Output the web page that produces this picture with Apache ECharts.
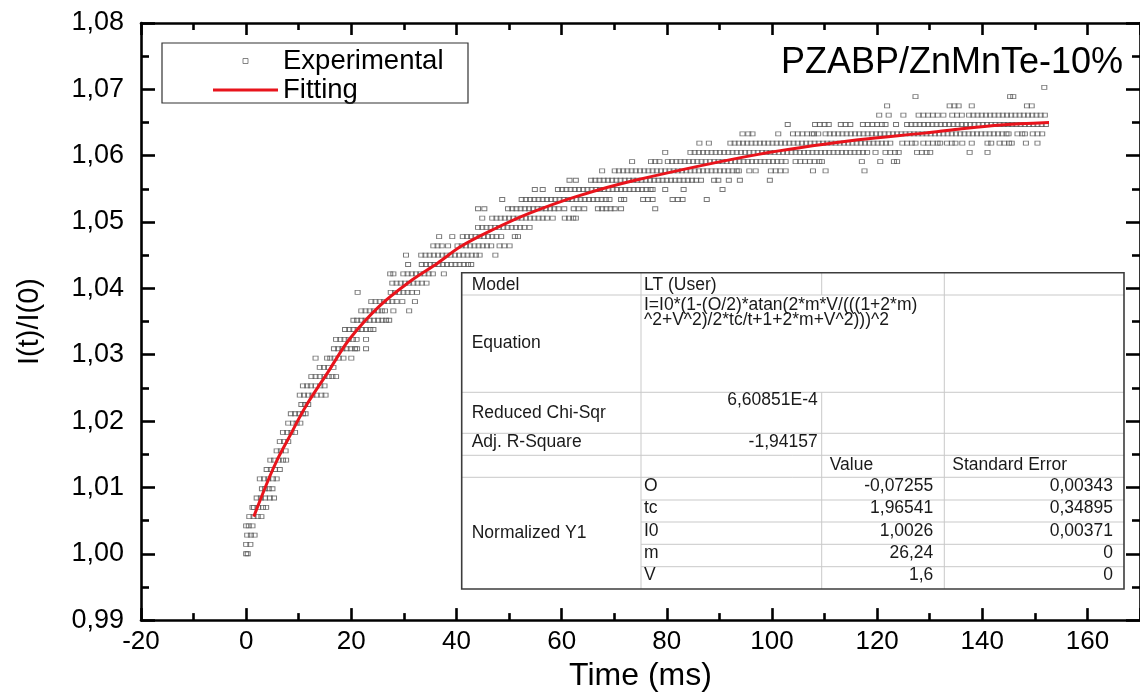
<!DOCTYPE html>
<html>
<head>
<meta charset="utf-8">
<script src="https://cdn.jsdelivr.net/npm/echarts@6/dist/echarts.min.js"></script>
<style>
html, body { margin: 0; padding: 0; background: #fff; }
#chart { width: 1140px; height: 697px; }
</style>
</head>
<body>
<div id="chart"></div>
<script>
// Normalized intensity levels I(t)/I(0) (the detector output is quantized)
const expLevels = [
  1.0000, 1.0014, 1.0028, 1.0042, 1.0056, 1.0070, 1.0084, 1.0098, 1.0113, 1.0127,
  1.0141, 1.0155, 1.0169, 1.0183, 1.0197, 1.0211, 1.0225, 1.0239, 1.0253, 1.0267,
  1.0281, 1.0295, 1.0309, 1.0323, 1.0338, 1.0352, 1.0366, 1.0380, 1.0394, 1.0408,
  1.0422, 1.0436, 1.0450, 1.0464, 1.0478, 1.0492, 1.0506, 1.0520, 1.0534, 1.0549,
  1.0563, 1.0577, 1.0591, 1.0605, 1.0619, 1.0633, 1.0647, 1.0661, 1.0675, 1.0689,
  1.0703
];

// Times (ms) at which each level above was recorded
const expTimes = [
  [0.0, 0.3],
  [0.0, 0.8],
  [0.2, 0.9, 1.6],
  [0.0, 0.5, 1.2],
  [0.6, 1.4, 2.2, 2.9],
  [1.2, 1.5, 2.3, 3.2, 3.8],
  [2.0, 2.8, 3.6, 4.5, 5.3],
  [3.0, 3.6, 4.3, 5.0],
  [2.6, 3.4, 4.2, 5.1, 5.8],
  [3.9, 4.7, 5.5, 6.4],
  [4.6, 5.3, 6.2, 7.0, 7.6],
  [5.8, 6.6, 7.5],
  [6.4, 7.2, 8.0],
  [7.0, 7.8, 8.6, 9.3],
  [8.0, 8.9, 9.6, 10.3],
  [8.5, 9.3, 10.1, 10.8, 11.3],
  [10.5, 11.2, 11.8],
  [10.2, 11.0, 11.8, 12.6, 13.4, 14.3, 15.1],
  [10.8, 11.6, 12.3, 13.2, 14.1, 14.9],
  [12.4, 13.2, 14.0, 14.9, 15.7, 16.4, 17.1],
  [14.0, 14.8, 15.6, 16.6],
  [13.2, 15.4, 16.0, 16.8, 17.6, 18.5, 20.0],
  [16.7, 17.5, 18.3, 19.1, 19.9, 20.7, 21.1, 22.8],
  [17.1, 17.9, 18.7, 19.5, 20.3, 21.0, 22.8],
  [18.8, 19.6, 20.4, 21.2, 22.0, 22.8, 23.6, 24.2],
  [20.4, 21.1, 21.9, 22.7, 23.5, 24.3, 25.1, 25.9, 26.6, 27.2],
  [21.9, 22.7, 23.5, 24.3, 25.1, 25.8, 26.4, 28.0, 31.0],
  [23.8, 24.6, 25.4, 26.2, 27.0, 27.8, 28.6, 29.7, 32.1],
  [21.2, 27.5, 28.3, 29.1, 29.9, 30.7, 31.5, 32.5],
  [27.8, 28.6, 29.4, 30.2, 31.0, 31.8, 32.6, 33.4, 34.3],
  [27.4, 28.0, 29.9, 30.7, 31.5, 32.3, 33.1, 33.9, 34.7, 35.5, 37.6],
  [30.8, 33.4, 34.2, 35.0, 35.8, 36.6, 37.4, 38.2, 39.0, 39.8, 40.6, 41.4, 42.2, 42.8],
  [30.4, 33.3, 34.1, 34.9, 35.7, 36.5, 37.3, 38.1, 38.9, 39.7, 40.5, 41.3, 42.1, 42.9, 43.7, 44.4, 47.4],
  [35.6, 36.4, 37.2, 38.4, 40.2, 41.0, 41.8, 42.6, 43.4, 44.2, 45.0, 45.8, 46.6, 48.2, 49.1, 50.1],
  [36.7, 39.2, 41.2, 42.0, 42.8, 43.6, 44.4, 45.2, 46.0, 46.8, 47.6, 48.5, 51.1, 51.7],
  [44.1, 44.9, 45.7, 46.5, 47.3, 48.1, 48.9, 49.7, 50.5, 51.3, 52.1, 52.9, 53.9],
  [44.9, 46.8, 47.6, 48.4, 49.2, 50.0, 50.8, 51.6, 52.4, 53.2, 54.0, 54.8, 55.6, 56.4, 57.2, 58.3,
   60.6, 61.4, 62.2, 62.7],
  [44.1, 45.3, 49.8, 50.6, 51.4, 52.2, 53.0, 53.8, 54.6, 55.4, 56.2, 57.0, 57.8, 58.6, 59.4, 60.5,
   62.3, 63.2, 64.3, 66.9, 67.7, 68.5, 69.3, 70.1, 71.3, 77.8],
  [48.7, 52.4, 53.2, 54.0, 54.8, 55.6, 56.4, 57.2, 58.0, 58.8, 59.6, 60.4, 61.2, 62.0, 62.8, 63.6,
   64.4, 65.2, 66.0, 66.8, 67.6, 68.4, 69.1, 71.3, 71.9, 75.5, 76.4, 77.3, 81.1, 82.1, 83.0, 87.6],
  [54.9, 56.4, 59.3, 60.1, 60.9, 61.7, 62.5, 63.3, 64.1, 64.9, 65.7, 66.5, 67.3, 68.1, 68.9, 69.7,
   70.5, 71.3, 72.1, 72.9, 73.7, 74.5, 75.3, 76.1, 76.9, 77.3, 79.7, 83.2, 90.6],
  [61.5, 62.7, 65.6, 66.4, 67.2, 68.0, 68.8, 69.6, 70.4, 71.2, 72.0, 72.8, 73.6, 74.4, 75.2, 76.0,
   76.8, 77.6, 78.4, 79.2, 80.0, 80.8, 81.6, 82.4, 83.2, 84.0, 84.8, 85.6, 86.5, 89.0, 89.8, 91.8,
   93.9, 99.6],
  [67.7, 70.1, 70.9, 71.7, 72.5, 73.3, 74.1, 74.9, 75.7, 76.5, 77.3, 78.1, 78.9, 79.7, 80.5, 81.3,
   82.1, 82.9, 83.7, 84.5, 85.3, 86.1, 86.9, 87.7, 88.5, 89.3, 90.1, 90.9, 91.7, 92.5, 93.3, 93.7,
   95.7, 96.9, 99.8, 100.7, 101.6, 102.6, 107.8, 110.2, 117.6],
  [73.4, 77.0, 77.8, 78.6, 80.2, 81.0, 81.8, 82.6, 83.4, 84.2, 85.0, 85.8, 86.6, 87.4, 88.2, 89.0,
   89.8, 90.6, 91.4, 92.2, 93.0, 93.8, 94.6, 95.4, 96.2, 97.0, 97.8, 98.6, 99.4, 100.2, 101.0, 101.8,
   102.6, 104.5, 105.4, 106.3, 107.2, 108.1, 109.0, 109.5, 117.1, 120.6, 123.2, 123.8],
  [79.7, 84.5, 85.3, 86.1, 86.9, 87.7, 88.5, 89.3, 90.1, 90.9, 91.7, 92.5, 93.3, 94.1, 94.9, 95.7,
   96.5, 97.3, 98.1, 98.9, 99.7, 100.5, 101.3, 102.1, 102.9, 103.7, 104.5, 105.3, 106.1, 106.9, 107.7,
   108.5, 109.3, 110.1, 110.9, 111.7, 112.5, 113.3, 114.1, 114.9, 115.7, 116.5, 117.3, 118.1, 119.7,
   121.6, 122.5, 123.4, 124.1, 127.6, 128.5, 129.4, 130.1, 137.6, 141.0],
  [86.2, 88.0, 92.1, 92.9, 93.7, 94.5, 95.3, 96.1, 96.9, 97.7, 98.5, 99.3, 100.1, 100.9, 101.7, 102.5,
   103.3, 104.1, 104.9, 105.7, 106.5, 107.3, 108.1, 108.9, 109.7, 110.5, 111.3, 112.1, 112.9, 113.7,
   114.5, 115.3, 116.1, 116.9, 117.7, 118.5, 119.3, 120.1, 120.9, 121.7, 122.5, 124.8, 125.7, 126.6,
   127.3, 128.8, 129.7, 130.6, 131.5, 132.0, 133.3, 134.2, 134.9, 136.2, 138.0, 141.0, 141.7, 143.3,
   144.2, 145.1, 145.6, 148.3, 150.5],
  [94.4, 95.5, 96.3, 101.2, 104.0, 104.9, 105.8, 106.7, 107.6, 108.0, 108.8, 110.2, 111.0, 111.8,
   112.6, 113.4, 114.2, 115.0, 115.8, 116.6, 117.4, 118.2, 119.0, 119.8, 120.6, 121.4, 122.2, 123.0,
   123.8, 124.6, 125.4, 126.2, 127.0, 127.8, 128.6, 129.4, 130.2, 131.0, 131.8, 132.6, 133.4, 134.2,
   135.0, 135.8, 136.6, 137.4, 138.2, 139.0, 139.8, 140.6, 141.4, 142.2, 143.0, 143.8, 144.6, 145.0,
   146.7, 147.6, 148.1, 149.6, 150.5, 151.4],
  [103.0, 108.2, 109.1, 110.0, 110.8, 113.1, 114.0, 114.9, 117.3, 118.2, 119.1, 120.0, 120.9, 121.6,
   123.6, 125.7, 126.5, 127.3, 128.1, 128.9, 129.7, 130.5, 131.3, 132.1, 132.9, 133.7, 134.5, 135.3,
   136.1, 136.9, 137.7, 138.5, 139.3, 140.1, 140.9, 141.7, 142.5, 143.3, 144.1, 144.9, 145.7, 146.5,
   147.3, 148.1, 148.9, 149.7, 150.5, 151.3, 152.1],
  [120.4, 122.2, 125.0, 127.9, 128.8, 129.7, 130.6, 131.5, 132.6, 134.3, 135.2, 136.1, 137.5, 138.3,
   139.1, 139.9, 140.7, 141.5, 142.3, 143.1, 143.9, 144.7, 145.5, 146.3, 147.1, 147.9, 148.7, 149.5,
   150.3, 151.1, 151.9],
  [121.9, 133.8, 134.7, 135.5, 138.0, 148.5, 149.4],
  [127.3, 145.3, 145.9],
  [151.8]
];

// Fitted LT (User) model curve
const fitTime  = [1.45, 4.3, 6.0, 8.0, 11.4, 15.5, 19.6, 25.3, 31.6, 36.4, 40.8, 46.8, 53.8,
                  62.6, 74.0, 97.4, 116.4, 129.0, 135.4, 142.9, 152.7];
const fitValue = [1.0056, 1.0113, 1.0143, 1.0173, 1.0223, 1.0273, 1.0323, 1.0373, 1.0413, 1.0438,
                  1.0463, 1.0488, 1.0513, 1.0538, 1.0563, 1.0602, 1.0624, 1.0634, 1.0640, 1.0646,
                  1.0650];

// Axis ranges
const xRange = { min: -20, max: 170, interval: 20 };
const yRange = { min: 0.99, max: 1.08, interval: 0.01 };

// Fit report
const chartTitle = 'PZABP/ZnMnTe-10%';
const modelName = 'LT (User)';
const equationLines = ['I=I0*(1-(O/2)*atan(2*m*V/(((1+2*m)', '^2+V^2)/2*tc/t+1+2*m+V^2)))^2'];
const statNames = ['Reduced Chi-Sqr', 'Adj. R-Square'];
const statValues = ['6,60851E-4', '-1,94157'];
const paramGroup = 'Normalized Y1';
const paramNames = ['O', 'tc', 'I0', 'm', 'V'];
const paramValues = ['-0,07255', '1,96541', '1,0026', '26,24', '1,6'];
const paramErrors = ['0,00343', '0,34895', '0,00371', '0', '0'];

const FONT = '"Liberation Sans", Arial, Helvetica, sans-serif';
const RED = '#e8141c';

const expPoints = [];
expLevels.forEach((v, i) => expTimes[i].forEach(t => expPoints.push([t, v])));
const fitPoints = fitTime.map((t, i) => [t, fitValue[i]]);

// ---- fit report table (drawn on top of the plot) ----
const colX = [461.7, 641, 821.7, 944.3, 1124];
const rowY = [272.7, 295, 392.3, 433.3, 455.3, 477.3, 500, 522, 544.3, 566.7, 589];
const tableEls = [];
const GRID_C = '#c9c9c9';
function hLine(y, xa, xb) {
  tableEls.push({ type: 'line', shape: { x1: xa, y1: y, x2: xb, y2: y },
    style: { stroke: GRID_C, lineWidth: 1 } });
}
function vLine(x, ya, yb) {
  tableEls.push({ type: 'line', shape: { x1: x, y1: ya, x2: x, y2: yb },
    style: { stroke: GRID_C, lineWidth: 1 } });
}
function cellText(str, x, y, align) {
  tableEls.push({ type: 'text', x: x, y: y,
    style: { text: str, fontSize: 17.5, fontFamily: FONT, fill: '#1a1a1a',
      align: align || 'left', verticalAlign: 'middle' } });
}
tableEls.push({ type: 'rect', shape: { x: colX[0], y: rowY[0], width: colX[4] - colX[0], height: rowY[10] - rowY[0] },
  style: { fill: '#ffffff', stroke: null } });
[1, 2, 3, 4, 5].forEach(r => hLine(rowY[r], colX[0], colX[4]));
[6, 7, 8, 9].forEach(r => hLine(rowY[r], colX[1], colX[4]));
vLine(colX[1], rowY[0], rowY[10]);
vLine(colX[2], rowY[0], rowY[1]);
vLine(colX[2], rowY[2], rowY[10]);
vLine(colX[3], rowY[0], rowY[10]);

const padL = 10, padR = 4;
cellText('Model', colX[0] + padL, 285);
cellText(modelName, colX[1] + 3, 285);
cellText(equationLines[0], colX[1] + 3, 305);
cellText(equationLines[1], colX[1] + 3, 320);
cellText('Equation', colX[0] + padL, 343);
cellText(statNames[0], colX[0] + padL, 413);
cellText(statValues[0], colX[2] - padR, 400, 'right');
cellText(statNames[1], colX[0] + padL, 442);
cellText(statValues[1], colX[2] - padR, 442, 'right');
cellText('Value', colX[2] + 8, 465);
cellText('Standard Error', colX[3] + 8, 465);
cellText(paramGroup, colX[0] + padL, 533);
const paramY = [486, 508.5, 531, 553.5, 575.5];
paramNames.forEach((p, i) => {
  cellText(p, colX[1] + 3, paramY[i]);
  cellText(paramValues[i], colX[3] - 11, paramY[i], 'right');
  cellText(paramErrors[i], colX[4] - 11, paramY[i], 'right');
});
tableEls.push({ type: 'rect', shape: { x: colX[0], y: rowY[0], width: colX[4] - colX[0], height: rowY[10] - rowY[0] },
  style: { fill: null, stroke: '#3c3c3c', lineWidth: 1.6 } });

// ---- axes ----
const axisLineStyle = { color: '#000', width: 2.6 };
function xAxisDef(pos) {
  const bottom = pos === 'bottom';
  return {
    type: 'value', position: pos,
    min: xRange.min, max: xRange.max, interval: xRange.interval,
    axisLine: { show: true, onZero: false, lineStyle: axisLineStyle },
    axisTick: { show: true, inside: true, length: 12, lineStyle: { color: '#000', width: 2.6 } },
    minorTick: { show: true, splitNumber: 2, length: 7, lineStyle: { color: '#000', width: 2.6 } },
    splitLine: { show: false },
    axisLabel: { show: bottom, margin: 9, fontSize: 26, fontFamily: FONT, color: '#000',
      showMaxLabel: false, formatter: v => String(v) },
    name: bottom ? 'Time (ms)' : '',
    nameLocation: 'middle', nameGap: 36,
    nameTextStyle: { fontSize: 32, fontFamily: FONT, color: '#000' }
  };
}
function yAxisDef(pos) {
  const left = pos === 'left';
  return {
    type: 'value', position: pos,
    min: yRange.min, max: yRange.max, interval: yRange.interval,
    axisLine: { show: true, onZero: false, lineStyle: axisLineStyle },
    axisTick: { show: true, inside: true, length: 14, lineStyle: { color: '#000', width: 2.6 } },
    minorTick: { show: true, splitNumber: 2, length: 8, lineStyle: { color: '#000', width: 2.6 } },
    splitLine: { show: false },
    axisLabel: { show: left, margin: 17, fontSize: 27, fontFamily: FONT, color: '#000',
      formatter: v => v.toFixed(2).replace('.', ',') },
    name: left ? 'I(t)/I(0)' : '',
    nameLocation: 'middle', nameGap: 97,
    nameTextStyle: { fontSize: 29, fontFamily: FONT, color: '#000' }
  };
}

const chart = echarts.init(document.getElementById('chart'));
chart.setOption({
  animation: false,
  backgroundColor: '#ffffff',
  grid: { left: 141, right: -3, top: 23, bottom: 75, containLabel: false },
  title: {
    text: chartTitle, right: 17, top: 45, padding: 0,
    textStyle: { fontSize: 36, fontWeight: 'normal', fontFamily: FONT, color: '#000' }
  },
  legend: {
    orient: 'vertical', left: 213, top: 47, padding: 0,
    itemWidth: 65, itemHeight: 5, itemGap: 1, selectedMode: false,
    textStyle: { fontSize: 27.5, lineHeight: 27, fontFamily: FONT, color: '#000' },
    data: [
      { name: 'Experimental', icon: 'path://M0 0H10V10H0Z',
        itemStyle: { color: '#ffffff', borderColor: '#666', borderWidth: 1 } },
      { name: 'Fitting', icon: 'path://M0 0H65V3H0Z',
        itemStyle: { color: RED, borderWidth: 0 } }
    ]
  },
  xAxis: [xAxisDef('bottom'), xAxisDef('top')],
  yAxis: [yAxisDef('left'), yAxisDef('right')],
  series: [
    {
      name: 'Experimental', type: 'scatter', data: expPoints,
      symbol: 'rect', symbolSize: [5, 4], silent: true, z: 2,
      itemStyle: { color: 'rgba(255,255,255,0)', borderColor: '#555', borderWidth: 0.9 }
    },
    {
      name: 'Fitting', type: 'line', data: fitPoints,
      smooth: 0.35, symbol: 'none', showSymbol: false, silent: true, z: 3,
      lineStyle: { color: RED, width: 3 }, itemStyle: { color: RED }
    }
  ],
  graphic: [
    { type: 'rect', z: 100, shape: { x: 162, y: 43, width: 306, height: 60 },
      style: { fill: null, stroke: '#333', lineWidth: 1.2 } },
    { type: 'group', z: 100, children: tableEls }
  ]
});
</script>
</body>
</html>
